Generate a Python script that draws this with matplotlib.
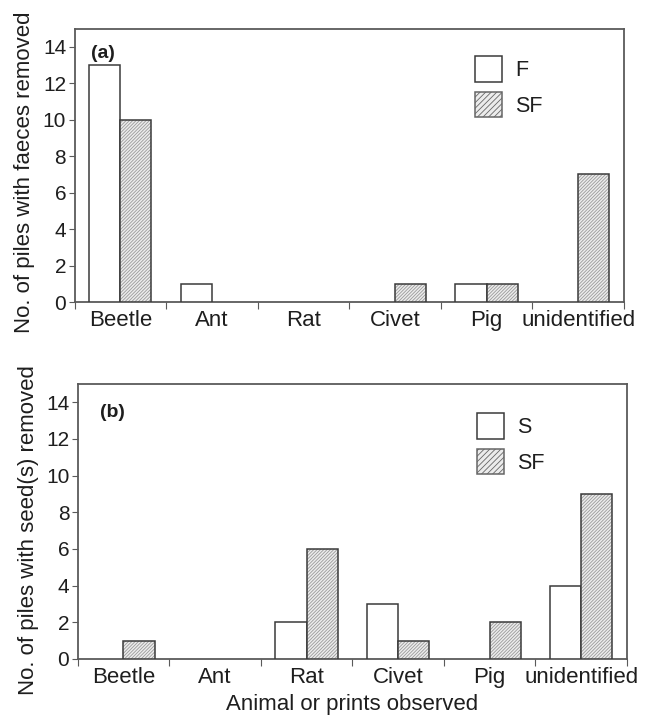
import matplotlib
matplotlib.use("Agg")
import matplotlib.pyplot as plt
from matplotlib.patches import Patch
import numpy as np

plt.rcParams['font.family'] = ['Liberation Sans', 'DejaVu Sans']
plt.rcParams['hatch.linewidth'] = 0.6

categories = ["Beetle", "Ant", "Rat", "Civet", "Pig", "unidentified"]
faeces_F = [13, 1, 0, 0, 1, 0]
faeces_SF = [10, 0, 0, 1, 1, 7]
seeds_S = [0, 0, 2, 3, 0, 4]
seeds_SF = [1, 0, 6, 1, 2, 9]
yticks = [0, 2, 4, 6, 8, 10, 12, 14]

fig = plt.figure(figsize=(6.49, 7.18), dpi=100)
ax1 = fig.add_axes([74.5 / 649, 1 - 302 / 718, 549.5 / 649, 273.5 / 718])
ax2 = fig.add_axes([77.7 / 649, 1 - 659 / 718, 549.3 / 649, 275 / 718])

spine_col = '#5a5a5a'
edge_col = '#3a3a3a'
hatch_face = '#ececec'
hatch_col = '#9a9a9a'
hatch = '/' * 10
bw = 0.34
txt = '#1e1e1e'

def draw(ax, a, b, la, lb, ylabel, tag, tagpos, legpos, ylab_y, xlabel=None):
    x = np.arange(len(categories))
    lw_a = [1.1 if v > 0 else 0 for v in a]
    lw_b = [1.1 if v > 0 else 0 for v in b]
    ax.bar(x - bw / 2, a, bw, facecolor='white', edgecolor=edge_col, linewidth=lw_a, zorder=3)
    ax.bar(x + bw / 2, b, bw, facecolor=hatch_face, edgecolor=hatch_col, linewidth=0,
           hatch=hatch, zorder=3)
    ax.bar(x + bw / 2, b, bw, facecolor='none', edgecolor=edge_col, linewidth=lw_b, zorder=4)
    ax.set_xlim(-0.5, len(categories) - 0.5)
    ax.set_ylim(0, 15)
    ax.set_yticks(yticks)
    ax.set_yticklabels([str(t) for t in yticks], fontsize=15, color=txt)
    ax.set_xticks(np.arange(-0.5, len(categories), 1.0))
    ax.set_xticklabels([])
    ax.set_xticks(x, minor=True)
    ax.set_xticklabels(categories, minor=True, fontsize=16, color=txt)
    ax.tick_params(axis='x', which='minor', length=0, pad=6)
    ax.tick_params(axis='x', which='major', length=5, color=spine_col, direction='out')
    ax.tick_params(axis='y', length=4, color=spine_col, direction='out', pad=2)
    for s in ax.spines.values():
        s.set_color(spine_col)
        s.set_linewidth(1.3)
    ax.set_ylabel(ylabel, fontsize=16, color=txt)
    ax.yaxis.set_label_coords(-0.071, ylab_y)
    ax.text(tagpos[0], tagpos[1], tag, transform=ax.transAxes, fontsize=14,
            fontweight='bold', color=txt, va='center', ha='left')
    handles = [Patch(facecolor='white', edgecolor=edge_col, linewidth=1.1, label=la),
               Patch(facecolor=hatch_face, edgecolor='#666666', linewidth=1.1,
                     hatch='/' * 6, label=lb)]
    ax.legend(handles=handles, loc='upper left', bbox_to_anchor=legpos,
              frameon=False, fontsize=15.5, handlelength=1.25, handleheight=1.45,
              borderpad=0, borderaxespad=0, labelspacing=0.45, handletextpad=0.6,
              labelcolor=txt)
    if xlabel:
        ax.set_xlabel(xlabel, fontsize=16, color=txt, labelpad=4)

draw(ax1, faeces_F, faeces_SF, 'F', 'SF', 'No. of piles with faeces removed', '(a)',
     (0.030, 0.91), (0.729, 0.898), 0.475)
draw(ax2, seeds_S, seeds_SF, 'S', 'SF', 'No. of piles with seed(s) removed', '(b)',
     (0.040, 0.895), (0.727, 0.893), 0.47, xlabel='Animal or prints observed')

fig.savefig('out.png', dpi=100)
